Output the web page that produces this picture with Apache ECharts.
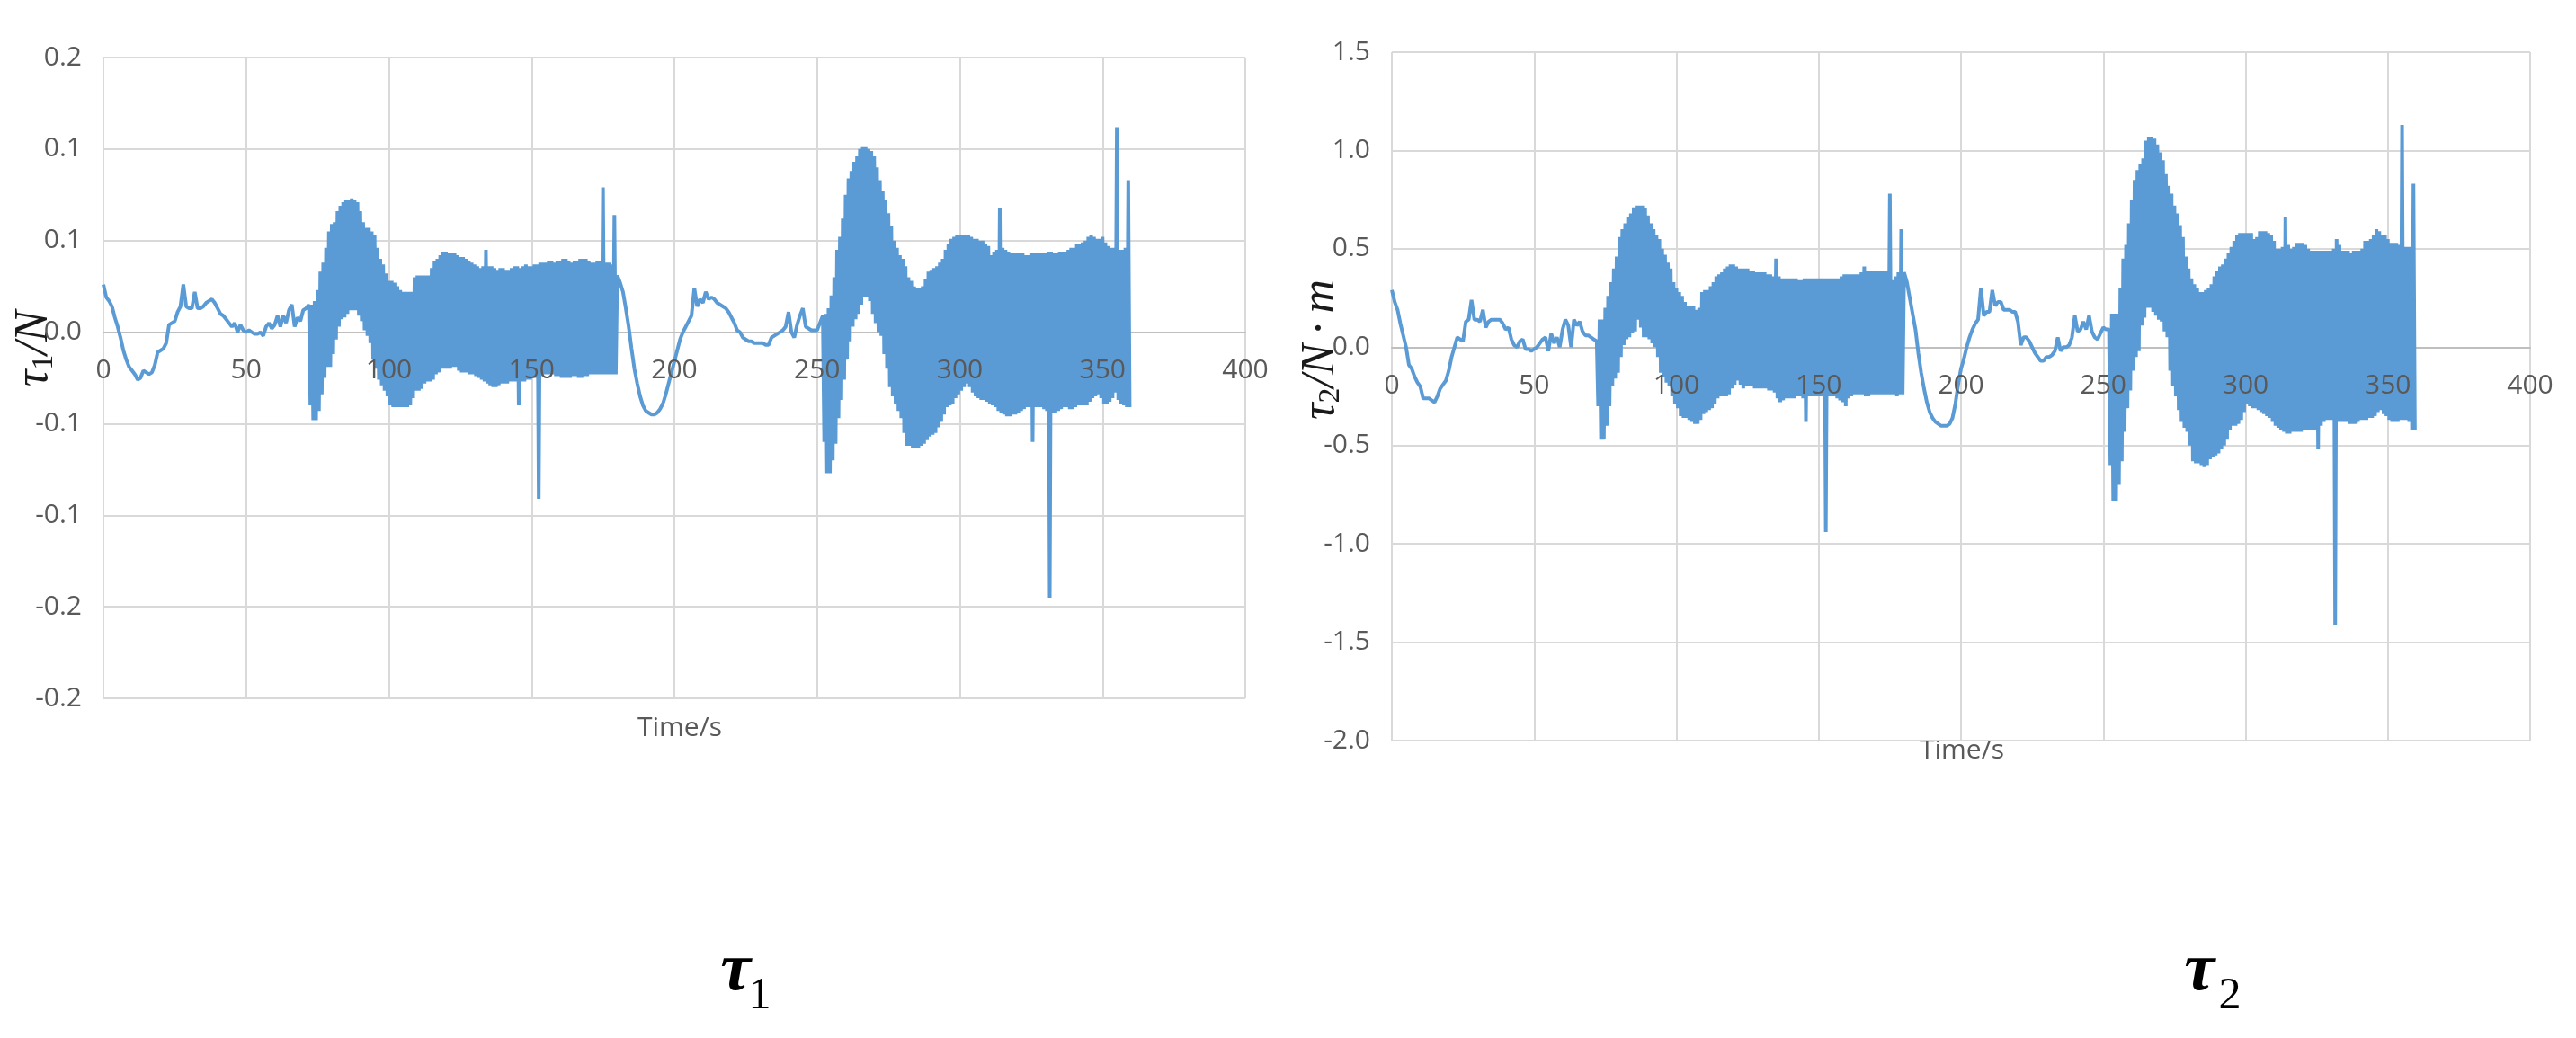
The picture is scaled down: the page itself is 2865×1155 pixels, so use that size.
<!DOCTYPE html>
<html>
<head>
<meta charset="utf-8">
<script src="https://cdn.jsdelivr.net/npm/echarts@6/dist/echarts.min.js"></script>
<style>
html,body{margin:0;padding:0;background:#fff;}
#chart{width:2865px;height:1155px;}
</style>
</head>
<body>
<div id="chart"></div>
<script>
// Recording is split into four segments: quiet parts sampled every 1 s,
// oscillating parts sampled every 0.5 s.
const segmentStarts = [0, 72, 181, 252];
const segmentSteps = [1, 0.5, 1, 0.5];

// ---------- tau1 (N) ----------
const tau1Start = [
  0.026, 0.019, 0.017, 0.014, 0.008, 0.003, -0.003, -0.010, -0.015, -0.019,
  -0.021, -0.023, -0.026, -0.025, -0.021, -0.022, -0.023, -0.022, -0.018, -0.011,
  -0.010, -0.009, -0.006, 0.004, 0.005, 0.006, 0.011, 0.014, 0.026, 0.014,
  0.013, 0.013, 0.022, 0.013, 0.013, 0.014, 0.016, 0.017, 0.018, 0.016,
  0.013, 0.010, 0.009, 0.007, 0.005, 0.003, 0.005, 0.000, 0.004, 0.001,
  0.000, 0.001, 0.000, -0.001, -0.001, 0.000, -0.002, 0.003, 0.005, 0.002,
  0.004, 0.009, 0.003, 0.009, 0.005, 0.012, 0.015, 0.003, 0.008, 0.006,
  0.012, 0.013
];
const tau1Osc1 = [
  0.015, -0.040, 0.015, -0.048, 0.017, -0.048, 0.023, -0.043, 0.033, -0.034,
  0.038, -0.025, 0.046, -0.019, 0.055, -0.019, 0.059, -0.012, 0.060, -0.004,
  0.066, 0.003, 0.069, 0.007, 0.071, 0.008, 0.072, 0.010, 0.072, 0.012,
  0.073, 0.012, 0.072, 0.012, 0.071, 0.009, 0.066, 0.006, 0.060, 0.001,
  0.057, -0.002, 0.057, -0.006, 0.055, -0.015, 0.053, -0.020, 0.046, -0.026,
  0.040, -0.029, 0.037, -0.032, 0.032, -0.035, 0.028, -0.040, 0.028, -0.041,
  0.027, -0.041, 0.025, -0.041, 0.023, -0.041, 0.022, -0.041, 0.022, -0.041,
  0.022, -0.040, 0.022, -0.036, 0.030, -0.032, 0.031, -0.032, 0.031, -0.031,
  0.031, -0.028, 0.031, -0.027, 0.031, -0.027, 0.035, -0.026, 0.039, -0.023,
  0.040, -0.022, 0.042, -0.020, 0.044, -0.020, 0.044, -0.020, 0.043, -0.020,
  0.043, -0.019, 0.043, -0.019, 0.042, -0.021, 0.041, -0.022, 0.041, -0.022,
  0.040, -0.022, 0.039, -0.023, 0.038, -0.023, 0.037, -0.024, 0.036, -0.025,
  0.035, -0.026, 0.036, -0.027, 0.045, -0.028, 0.036, -0.029, 0.036, -0.030,
  0.035, -0.030, 0.034, -0.029, 0.035, -0.028, 0.035, -0.028, 0.034, -0.028,
  0.034, -0.027, 0.035, -0.027, 0.036, -0.027, 0.036, -0.040, 0.035, -0.027,
  0.036, -0.027, 0.037, -0.026, 0.036, -0.026, 0.036, -0.025, 0.037, -0.025,
  0.037, -0.091, 0.038, -0.024, 0.038, -0.023, 0.038, -0.023, 0.039, -0.023,
  0.039, -0.023, 0.038, -0.024, 0.039, -0.024, 0.039, -0.025, 0.040, -0.025,
  0.040, -0.025, 0.039, -0.025, 0.038, -0.024, 0.039, -0.024, 0.039, -0.025,
  0.040, -0.025, 0.040, -0.024, 0.040, -0.024, 0.039, -0.023, 0.038, -0.023,
  0.038, -0.023, 0.039, -0.023, 0.039, -0.023, 0.079, -0.023, 0.038, -0.023,
  0.038, -0.023, 0.037, -0.023, 0.064, -0.023, 0.031
];
const tau1Mid = [
  0.027, 0.022, 0.013, 0.003, -0.009, -0.020, -0.028, -0.035, -0.040, -0.043,
  -0.044, -0.045, -0.045, -0.044, -0.042, -0.039, -0.034, -0.028, -0.022, -0.016,
  -0.010, -0.004, 0.000, 0.003, 0.006, 0.009, 0.024, 0.014, 0.018, 0.016,
  0.022, 0.018, 0.019, 0.018, 0.016, 0.015, 0.014, 0.013, 0.011, 0.008,
  0.005, 0.001, 0.000, -0.003, -0.004, -0.005, -0.005, -0.006, -0.006, -0.006,
  -0.006, -0.007, -0.007, -0.003, -0.002, -0.001, 0.000, 0.001, 0.003, 0.011,
  0.000, -0.003, 0.004, 0.009, 0.013, 0.003, 0.002, 0.001, 0.001, 0.001,
  0.005
];
const tau1Osc2 = [
  0.009, -0.060, 0.010, -0.077, 0.013, -0.077, 0.020, -0.070, 0.030, -0.061,
  0.045, -0.047, 0.052, -0.037, 0.062, -0.026, 0.075, -0.015, 0.084, -0.005,
  0.088, 0.003, 0.093, 0.007, 0.096, 0.010, 0.100, 0.015, 0.101, 0.019,
  0.101, 0.019, 0.100, 0.017, 0.099, 0.010, 0.096, 0.005, 0.090, 0.000,
  0.083, -0.002, 0.077, -0.012, 0.072, -0.020, 0.065, -0.030, 0.058, -0.035,
  0.050, -0.039, 0.046, -0.043, 0.042, -0.047, 0.040, -0.055, 0.036, -0.062,
  0.030, -0.062, 0.028, -0.063, 0.025, -0.063, 0.024, -0.063, 0.024, -0.062,
  0.025, -0.061, 0.029, -0.059, 0.033, -0.057, 0.034, -0.056, 0.035, -0.055,
  0.036, -0.052, 0.038, -0.049, 0.040, -0.045, 0.045, -0.041, 0.048, -0.040,
  0.051, -0.039, 0.052, -0.036, 0.053, -0.034, 0.053, -0.032, 0.053, -0.030,
  0.053, -0.028, 0.053, -0.030, 0.052, -0.033, 0.051, -0.035, 0.051, -0.036,
  0.050, -0.037, 0.050, -0.037, 0.048, -0.038, 0.047, -0.039, 0.042, -0.040,
  0.044, -0.041, 0.045, -0.043, 0.068, -0.044, 0.046, -0.045, 0.045, -0.046,
  0.044, -0.046, 0.043, -0.045, 0.043, -0.045, 0.043, -0.044, 0.043, -0.043,
  0.043, -0.042, 0.042, -0.041, 0.042, -0.041, 0.043, -0.060, 0.043, -0.041,
  0.043, -0.041, 0.043, -0.041, 0.043, -0.042, 0.043, -0.043, 0.044, -0.145,
  0.044, -0.044, 0.043, -0.044, 0.043, -0.043, 0.044, -0.042, 0.044, -0.041,
  0.044, -0.041, 0.045, -0.042, 0.046, -0.042, 0.046, -0.041, 0.048, -0.040,
  0.048, -0.040, 0.049, -0.040, 0.050, -0.040, 0.052, -0.038, 0.053, -0.036,
  0.052, -0.035, 0.051, -0.034, 0.051, -0.036, 0.052, -0.039, 0.049, -0.039,
  0.047, -0.038, 0.046, -0.036, 0.046, -0.033, 0.112, -0.037, 0.045, -0.039,
  0.045, -0.040, 0.046, -0.041, 0.083, -0.041
];

// ---------- tau2 (N·m) ----------
const tau2Start = [
  0.29, 0.23, 0.19, 0.12, 0.06, 0.00, -0.09, -0.11, -0.15, -0.18,
  -0.20, -0.26, -0.26, -0.26, -0.27, -0.28, -0.25, -0.21, -0.19, -0.17,
  -0.12, -0.05, 0.00, 0.05, 0.04, 0.03, 0.13, 0.14, 0.24, 0.14,
  0.14, 0.13, 0.19, 0.10, 0.13, 0.14, 0.14, 0.14, 0.14, 0.12,
  0.09, 0.10, 0.04, 0.01, 0.00, 0.03, 0.04, -0.01, -0.01, -0.02,
  -0.01, 0.00, 0.02, 0.04, 0.05, -0.02, 0.07, 0.02, 0.05, 0.00,
  0.09, 0.14, 0.11, 0.00, 0.14, 0.11, 0.13, 0.08, 0.06, 0.06,
  0.05, 0.04
];
const tau2Osc1 = [
  0.03, -0.30, 0.14, -0.47, 0.14, -0.47, 0.20, -0.40, 0.26, -0.30,
  0.33, -0.20, 0.40, -0.16, 0.46, -0.13, 0.56, -0.05, 0.60, 0.01,
  0.63, 0.04, 0.66, 0.05, 0.68, 0.07, 0.71, 0.08, 0.72, 0.14,
  0.72, 0.10, 0.72, 0.05, 0.71, 0.05, 0.67, 0.04, 0.63, 0.02,
  0.60, 0.00, 0.57, -0.05, 0.55, -0.13, 0.50, -0.15, 0.47, -0.18,
  0.43, -0.20, 0.40, -0.25, 0.33, -0.29, 0.30, -0.31, 0.28, -0.35,
  0.26, -0.36, 0.23, -0.36, 0.21, -0.37, 0.21, -0.38, 0.21, -0.39,
  0.19, -0.39, 0.20, -0.37, 0.28, -0.34, 0.29, -0.33, 0.29, -0.32,
  0.31, -0.31, 0.33, -0.29, 0.36, -0.26, 0.37, -0.25, 0.38, -0.25,
  0.40, -0.25, 0.41, -0.24, 0.42, -0.21, 0.42, -0.19, 0.41, -0.17,
  0.40, -0.19, 0.40, -0.21, 0.40, -0.20, 0.40, -0.20, 0.39, -0.20,
  0.39, -0.21, 0.38, -0.21, 0.38, -0.21, 0.38, -0.21, 0.38, -0.21,
  0.37, -0.22, 0.37, -0.22, 0.36, -0.23, 0.45, -0.26, 0.36, -0.28,
  0.35, -0.27, 0.35, -0.26, 0.35, -0.26, 0.35, -0.26, 0.35, -0.26,
  0.35, -0.25, 0.34, -0.25, 0.34, -0.26, 0.35, -0.38, 0.35, -0.25,
  0.35, -0.25, 0.35, -0.25, 0.35, -0.25, 0.35, -0.25, 0.35, -0.25,
  0.35, -0.94, 0.35, -0.25, 0.35, -0.25, 0.35, -0.25, 0.35, -0.26,
  0.35, -0.27, 0.36, -0.28, 0.37, -0.30, 0.37, -0.26, 0.37, -0.25,
  0.37, -0.24, 0.37, -0.24, 0.37, -0.24, 0.38, -0.24, 0.41, -0.25,
  0.39, -0.25, 0.39, -0.24, 0.39, -0.24, 0.39, -0.24, 0.39, -0.24,
  0.39, -0.24, 0.39, -0.24, 0.39, -0.24, 0.78, -0.24, 0.34, -0.24,
  0.36, -0.25, 0.38, -0.24, 0.60, -0.24, 0.38
];
const tau2Mid = [
  0.33, 0.25, 0.17, 0.09, -0.03, -0.13, -0.21, -0.28, -0.33, -0.36,
  -0.38, -0.39, -0.40, -0.40, -0.40, -0.39, -0.36, -0.29, -0.19, -0.11,
  -0.06, 0.00, 0.05, 0.09, 0.12, 0.14, 0.30, 0.16, 0.18, 0.18,
  0.29, 0.21, 0.23, 0.23, 0.19, 0.19, 0.19, 0.18, 0.18, 0.13,
  0.01, 0.05, 0.05, 0.03, 0.00, -0.03, -0.05, -0.07, -0.07, -0.05,
  -0.05, -0.04, -0.02, 0.05, -0.02, 0.00, 0.00, 0.01, 0.05, 0.16,
  0.08, 0.09, 0.13, 0.09, 0.16, 0.08, 0.05, 0.04, 0.07, 0.10,
  0.09
];
const tau2Osc2 = [
  0.09, -0.60, 0.17, -0.78, 0.17, -0.78, 0.17, -0.70, 0.30, -0.58,
  0.45, -0.43, 0.52, -0.31, 0.63, -0.22, 0.75, -0.12, 0.85, -0.05,
  0.90, -0.02, 0.93, 0.11, 0.96, 0.15, 1.05, 0.20, 1.07, 0.20,
  1.07, 0.18, 1.06, 0.16, 1.03, 0.14, 0.99, 0.13, 0.95, 0.08,
  0.88, 0.05, 0.82, -0.12, 0.78, -0.20, 0.72, -0.25, 0.68, -0.32,
  0.62, -0.38, 0.56, -0.41, 0.46, -0.43, 0.40, -0.50, 0.35, -0.58,
  0.32, -0.59, 0.30, -0.59, 0.28, -0.60, 0.28, -0.61, 0.29, -0.60,
  0.30, -0.57, 0.32, -0.56, 0.36, -0.55, 0.39, -0.54, 0.41, -0.52,
  0.42, -0.50, 0.45, -0.47, 0.48, -0.42, 0.51, -0.40, 0.54, -0.40,
  0.57, -0.39, 0.58, -0.37, 0.58, -0.33, 0.58, -0.29, 0.58, -0.30,
  0.58, -0.31, 0.55, -0.31, 0.56, -0.32, 0.59, -0.33, 0.59, -0.34,
  0.59, -0.35, 0.58, -0.36, 0.57, -0.38, 0.54, -0.40, 0.50, -0.41,
  0.50, -0.42, 0.51, -0.43, 0.66, -0.44, 0.52, -0.44, 0.50, -0.43,
  0.51, -0.43, 0.53, -0.43, 0.53, -0.43, 0.53, -0.42, 0.52, -0.42,
  0.50, -0.42, 0.49, -0.42, 0.49, -0.42, 0.49, -0.52, 0.49, -0.40,
  0.49, -0.38, 0.49, -0.37, 0.49, -0.37, 0.49, -0.37, 0.50, -1.41,
  0.55, -0.38, 0.52, -0.38, 0.49, -0.38, 0.49, -0.38, 0.49, -0.39,
  0.48, -0.39, 0.49, -0.39, 0.49, -0.38, 0.49, -0.37, 0.50, -0.37,
  0.54, -0.37, 0.54, -0.36, 0.55, -0.36, 0.57, -0.35, 0.60, -0.33,
  0.59, -0.32, 0.57, -0.34, 0.57, -0.35, 0.55, -0.37, 0.53, -0.38,
  0.53, -0.38, 0.53, -0.38, 0.52, -0.37, 1.13, -0.37, 0.51, -0.37,
  0.51, -0.38, 0.51, -0.42, 0.83, -0.42
];

// tick labels as printed on the original axes
const tau1TickLabels = ['-0.2', '-0.2', '-0.1', '-0.1', '0.0', '0.1', '0.1', '0.2'];
const tau2TickLabels = ['-2.0', '-1.5', '-1.0', '-0.5', '0.0', '0.5', '1.0', '1.5'];
const timeTicks = { min: 0, max: 400, interval: 50 };
const tau1Axis = { min: -0.2, max: 0.15, interval: 0.05 };
const tau2Axis = { min: -2.0, max: 1.5, interval: 0.5 };

function buildSeries(segments) {
  const out = [];
  segments.forEach((vals, s) => {
    vals.forEach((v, i) => out.push([segmentStarts[s] + i * segmentSteps[s], v]));
  });
  return out;
}

const grids = [
  { left: 115, top: 64, width: 1270, height: 713 },
  { left: 1548, top: 58, width: 1266, height: 766 }
];

const labelFont = { fontFamily: 'Open Sans', fontSize: 30, color: '#595959' };
const gridLine = { show: true, lineStyle: { color: '#d9d9d9', width: 2 } };
const lineColor = '#5b9bd5';

function zeroOffset(gi, yAx) {
  return -grids[gi].height * (0 - yAx.min) / (yAx.max - yAx.min);
}
// time axis carrying the grid lines and the zero line (drawn under the data)
function xGridAxis(gi, yAx) {
  return {
    type: 'value', gridIndex: gi, position: 'bottom', offset: zeroOffset(gi, yAx), z: 0,
    min: timeTicks.min, max: timeTicks.max, interval: timeTicks.interval,
    axisLine: { show: true, onZero: false, lineStyle: { color: '#bfbfbf', width: 2 } },
    axisTick: { show: false },
    axisLabel: { show: false },
    splitLine: gridLine
  };
}
// time axis carrying only the tick labels (drawn over the data)
function xLabelAxis(gi, yAx) {
  return {
    type: 'value', gridIndex: gi, position: 'bottom', offset: zeroOffset(gi, yAx), z: 10,
    min: timeTicks.min, max: timeTicks.max, interval: timeTicks.interval,
    axisLine: { show: false, onZero: false },
    axisTick: { show: false },
    axisLabel: Object.assign({ margin: 28 }, labelFont),
    splitLine: { show: false }
  };
}
function yAxisFor(gi, ax, labels) {
  return {
    type: 'value', gridIndex: gi,
    min: ax.min, max: ax.max, interval: ax.interval,
    axisLine: { show: false, onZero: false },
    axisTick: { show: false },
    axisLabel: Object.assign({
      margin: 24,
      formatter: v => labels[Math.round((v - ax.min) / ax.interval)]
    }, labelFont),
    splitLine: gridLine
  };
}

const nameRich = {
  t: { fontFamily: 'Liberation Serif', fontStyle: 'italic', fontSize: 52, lineHeight: 56, fill: '#1a1a1a' },
  s: { fontFamily: 'Liberation Serif', fontSize: 34, lineHeight: 38, verticalAlign: 'bottom', fill: '#1a1a1a' }
};

const chart = echarts.init(document.getElementById('chart'), null, { renderer: 'canvas' });
chart.setOption({
  animation: false,
  backgroundColor: '#ffffff',
  grid: grids,
  xAxis: [xGridAxis(0, tau1Axis), xGridAxis(1, tau2Axis), xLabelAxis(0, tau1Axis), xLabelAxis(1, tau2Axis)],
  yAxis: [yAxisFor(0, tau1Axis, tau1TickLabels), yAxisFor(1, tau2Axis, tau2TickLabels)],
  series: [
    {
      type: 'line', xAxisIndex: 0, yAxisIndex: 0,
      data: buildSeries([tau1Start, tau1Osc1, tau1Mid, tau1Osc2]),
      showSymbol: false, sampling: null,
      lineStyle: { color: lineColor, width: 4, join: 'bevel' }
    },
    {
      type: 'line', xAxisIndex: 1, yAxisIndex: 1,
      data: buildSeries([tau2Start, tau2Osc1, tau2Mid, tau2Osc2]),
      showSymbol: false, sampling: null,
      lineStyle: { color: lineColor, width: 4, join: 'bevel' }
    }
  ],
  graphic: [
    { type: 'text', x: 756, y: 810, style: { text: 'Time/s', font: '30px "Open Sans"', fill: '#595959', textAlign: 'center', textVerticalAlign: 'middle' } },
    { type: 'text', x: 2182, y: 835, style: { text: 'Time/s', font: '30px "Open Sans"', fill: '#595959', textAlign: 'center', textVerticalAlign: 'middle' } },
    {
      type: 'text', x: 38, y: 388, rotation: Math.PI / 2,
      style: { text: '{t|τ}{s|1}{t|/N}', textAlign: 'center', textVerticalAlign: 'middle', rich: nameRich }
    },
    {
      type: 'text', x: 1469, y: 389, rotation: Math.PI / 2,
      style: { text: '{t|τ}{s|2}{t|/N\u2009·\u2009m}', textAlign: 'center', textVerticalAlign: 'middle', rich: nameRich }
    },
    { type: 'text', x: 818, y: 1119, style: { text: 'τ', font: 'italic bold 76px "Liberation Serif"', fill: '#000', textAlign: 'center', textVerticalAlign: 'bottom' } },
    { type: 'text', x: 845, y: 1134, style: { text: '1', font: '50px "Liberation Serif"', fill: '#000', textAlign: 'center', textVerticalAlign: 'bottom' } },
    { type: 'text', x: 2446, y: 1119, style: { text: 'τ', font: 'italic bold 76px "Liberation Serif"', fill: '#000', textAlign: 'center', textVerticalAlign: 'bottom' } },
    { type: 'text', x: 2480, y: 1134, style: { text: '2', font: '50px "Liberation Serif"', fill: '#000', textAlign: 'center', textVerticalAlign: 'bottom' } }
  ]
});
</script>
</body>
</html>
